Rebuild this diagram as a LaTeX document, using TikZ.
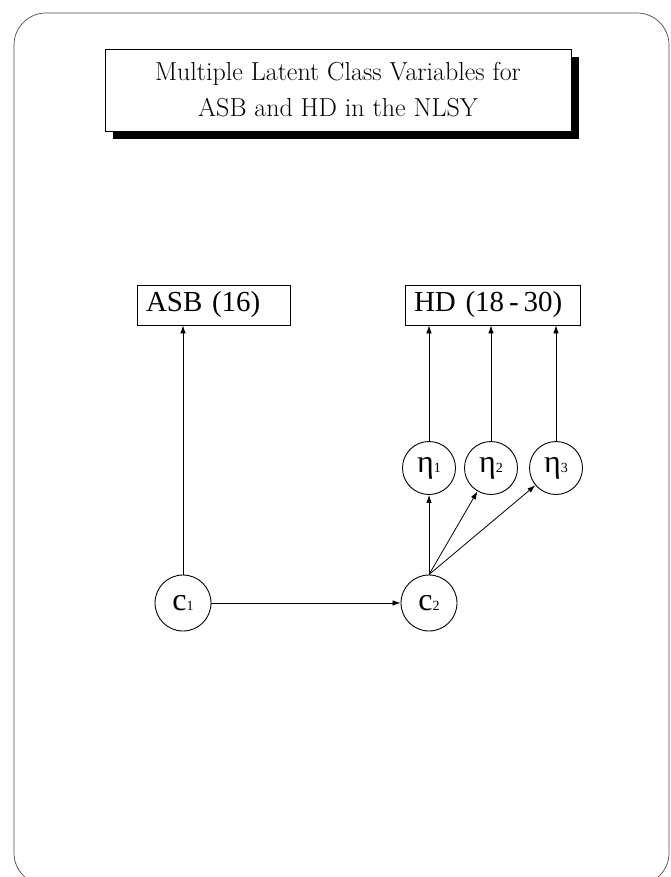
\documentclass[tikz,border=0pt]{standalone}
\usepackage{fontspec}
\newfontfamily\tms{Liberation Serif}
\usetikzlibrary{arrows.meta}
\newcommand{\sbs}[1]{{\fontsize{14}{14}\selectfont #1}}
\begin{document}
\begin{tikzpicture}[x=1pt,y=1pt,
  frame/.style={draw=black!70, line width=0.7pt, rounded corners=32pt},
  titlebox/.style={draw, line width=0.6pt, fill=white, minimum width=466pt, minimum height=82pt, inner sep=0pt, align=center, font=\fontsize{26}{36}\selectfont},
  varbox/.style={draw, line width=0.8pt, minimum height=40pt, inner ysep=0pt, inner xsep=9pt, align=left, font=\tms\fontsize{29}{32}\selectfont},
  latent/.style={draw, circle, line width=0.9pt, minimum size=56pt, inner sep=0pt, font=\tms\fontsize{32}{32}\selectfont},
  eta/.style={latent, minimum size=53pt},
  arr/.style={-{Latex[length=8pt,width=5.5pt]}, line width=0.8pt}
]
\useasboundingbox (0,0) rectangle (671,-877);
\draw[frame] (14,-13) rectangle (669,-885);
\fill (113,-57) rectangle (579,-139);
\node[titlebox] (title) at (338,-90) {Multiple Latent Class Variables for\\ASB and HD in the NLSY};
\node[varbox, text width=135pt] (asb) at (213.5,-305) {ASB (16)};
\node[varbox, text width=157pt] (hd) at (492.5,-305) {HD (18\,-\,30)};
\node[latent] (c1) at (183,-603) {c\sbs{1}};
\node[latent] (c2) at (429,-603) {c\sbs{2}};
\node[eta] (e1) at (429,-468) {η\sbs{1}};
\node[eta] (e2) at (491,-468) {η\sbs{2}};
\node[eta] (e3) at (556,-468) {η\sbs{3}};
\draw[arr] (c1.north) -- (c1 |- asb.south);
\draw[arr] (c1) -- (c2);
\draw[arr] (c2.north) -- (e1.south);
\draw[arr] (c2.north) -- (e2);
\draw[arr] (c2.north) -- (e3);
\draw[arr] (e1.north) -- (e1 |- hd.south);
\draw[arr] (e2.north) -- (e2 |- hd.south);
\draw[arr] (e3.north) -- (e3 |- hd.south);
\end{tikzpicture}
\end{document}
